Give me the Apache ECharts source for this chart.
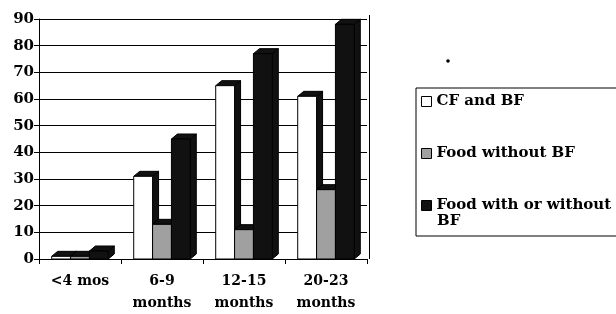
<!DOCTYPE html>
<html>
<head>
<meta charset="utf-8">
<script src="https://cdn.jsdelivr.net/npm/echarts@6/dist/echarts.min.js"></script>
<style>
  html, body { margin: 0; padding: 0; background: #fff; }
  #chart { width: 616px; height: 314px; }
</style>
</head>
<body>
<div id="chart"></div>
<script>
const categories = ['<4 mos', '6-9\nmonths', '12-15\nmonths', '20-23\nmonths']
const seriesNames = ['CF and BF', 'Food without BF', 'Food with or without BF']
const cfAndBf = [1, 31, 65, 61]
const foodWithoutBf = [1, 13, 11, 26]
const foodWithOrWithoutBf = [3, 45, 77, 88]
const yTicks = [0, 10, 20, 30, 40, 50, 60, 70, 80, 90]

const faceColors = ['#ffffff', '#a0a0a0', '#111111']
const font = 'DejaVu Serif'

const chart = echarts.init(document.getElementById('chart'))

// 3D-looking bar: front face, top face and right side face
function makeRender(idx) {
  return function (params, api) {
    const cat = api.value(0)
    const val = api.value(1)
    const base = api.coord([cat, 0])
    const top = api.coord([cat, val])
    const band = api.size([1, 0])[0]
    const bw = band * 0.23
    const x0 = base[0] + (idx - 1.5) * bw
    const dx = 6, dy = 5
    const h = base[1] - top[1]
    return {
      type: 'group',
      children: [
        {
          type: 'polygon',
          shape: { points: [[x0 + bw, top[1]], [x0 + bw + dx, top[1] - dy], [x0 + bw + dx, base[1] - dy], [x0 + bw, base[1]]] },
          style: { fill: '#111', stroke: '#000', lineWidth: 1 }
        },
        {
          type: 'polygon',
          shape: { points: [[x0, top[1]], [x0 + dx, top[1] - dy], [x0 + bw + dx, top[1] - dy], [x0 + bw, top[1]]] },
          style: { fill: '#111', stroke: '#000', lineWidth: 1 }
        },
        {
          type: 'rect',
          shape: { x: x0, y: top[1], width: bw, height: Math.max(h, 1) },
          style: { fill: faceColors[idx], stroke: '#000', lineWidth: 1 }
        }
      ]
    }
  }
}

const dataSets = [cfAndBf, foodWithoutBf, foodWithOrWithoutBf]

const option = {
  animation: false,
  backgroundColor: '#fff',
  grid: { left: 39, top: 19, width: 328, bottom: 53 },
  legend: {
    orient: 'vertical',
    left: 416,
    top: 88,
    itemWidth: 10,
    itemHeight: 10,
    itemGap: 33,
    itemTextGap: 8,
    padding: [4, 20, 21, 5],
    borderColor: '#000',
    borderWidth: 1,
    data: seriesNames.map((n, i) => ({
      name: n,
      icon: 'rect',
      itemStyle: { color: faceColors[i], borderColor: '#000', borderWidth: 1 }
    })),
    // the last name wraps; its second line is drawn below as graphic text
    formatter: n => n === 'Food with or without BF' ? 'Food with or without' : n,
    textStyle: { fontFamily: font, fontWeight: 'bold', fontSize: 15, color: '#000', lineHeight: 19 }
  },
  xAxis: {
    type: 'category',
    data: categories,
    axisLine: { lineStyle: { color: '#000', width: 1 } },
    axisTick: { show: true, alignWithLabel: false, lineStyle: { color: '#000' } },
    axisLabel: { fontFamily: font, fontWeight: 'bold', fontSize: 14, color: '#000', margin: 11, lineHeight: 22 }
  },
  yAxis: {
    type: 'value',
    min: 0,
    max: 90,
    interval: 10,
    axisLine: { show: true, lineStyle: { color: '#000' } },
    axisTick: { show: true, lineStyle: { color: '#000' } },
    splitLine: { lineStyle: { color: '#000', width: 1 } },
    axisLabel: {
      fontFamily: font, fontWeight: 'bold', fontSize: 15, color: '#000', margin: 5,
      formatter: v => yTicks.includes(v) ? String(v) : ''
    }
  },
  series: dataSets.map((d, i) => ({
    name: seriesNames[i],
    type: 'custom',
    renderItem: makeRender(i),
    itemStyle: { color: faceColors[i] },
    encode: { x: 0, y: 1 },
    data: d.map((v, k) => [k, v])
  })),
  graphic: [
    { type: 'rect', left: 369, top: 15, shape: { width: 1, height: 244 }, style: { fill: '#000' } },
    { type: 'circle', shape: { cx: 448, cy: 61, r: 1.8 }, style: { fill: '#000' } },
    {
      type: 'text', left: 437, top: 214,
      style: { text: 'BF', fontFamily: font, fontWeight: 'bold', fontSize: 15, fill: '#000' }
    }
  ]
}

chart.setOption(option)
</script>
</body>
</html>
